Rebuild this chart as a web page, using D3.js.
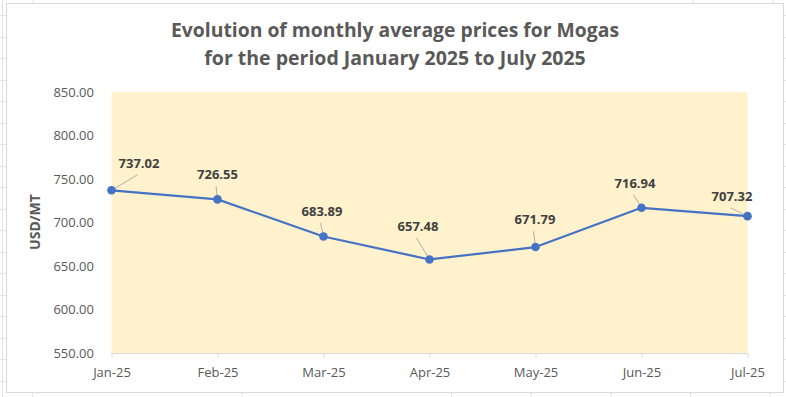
<!DOCTYPE html>
<html><head><meta charset="utf-8">
<script src="https://cdn.jsdelivr.net/npm/d3@7"></script>
<style>
html,body{margin:0;padding:0;background:#fff;}
svg{display:block;}
text{font-family:"Open Sans",sans-serif;}
</style></head>
<body>
<svg id="c" width="786" height="397"></svg>
<script>
const months = ["Jan-25","Feb-25","Mar-25","Apr-25","May-25","Jun-25","Jul-25"];
const prices = [737.02,726.55,683.89,657.48,671.79,716.94,707.32];
const yTicks = [550,600,650,700,750,800,850];
const titleLines = ["Evolution of monthly average prices for Mogas","for the period January 2025 to July 2025"];
const yTitle = "USD/MT";
// label offsets (label centre x, baseline y) relative to point (layout only)
const labelOffsets = [[27.5,-22.6],[0,-20.5],[-1.5,-20.7],[-11.5,-28.6],[-0.5,-22.7],[-6.5,-20],[-15.5,-15.3]];

const svg=d3.select("#c");

// outer spreadsheet grid (faint)
const g0=svg.append("g").attr("stroke","#e3e3e3").attr("stroke-width",1);
[15,37,58,80,101,123,144,166,187,209,230,252,273,295,316,338,359,381].forEach(y=>{
  g0.append("line").attr("x1",0).attr("x2",6).attr("y1",y+0.5).attr("y2",y+0.5);
  g0.append("line").attr("x1",784).attr("x2",786).attr("y1",y+0.5).attr("y2",y+0.5);
});
[32.5,242,451.5,531,611,690.5,770].forEach(x=>{
  g0.append("line").attr("x1",x).attr("x2",x).attr("y1",393).attr("y2",397);
});
[33,693,773].forEach(x=>{
  g0.append("line").attr("x1",x).attr("x2",x).attr("y1",0).attr("y2",3);
});
g0.append("line").attr("x1",2.5).attr("x2",2.5).attr("y1",0).attr("y2",397);

// chart frame
svg.append("rect").attr("x",6.5).attr("y",3.5).attr("width",777).attr("height",389)
  .attr("fill","#fff").attr("stroke","#d9d9d9");

const x=d3.scalePoint().domain(months).range([111.5,747.5]);
const y=d3.scaleLinear().domain([550,850]).range([353,92]);

// plot background
svg.append("rect").attr("x",x.range()[0]).attr("y",y(850))
  .attr("width",x.range()[1]-x.range()[0]).attr("height",y(550)-y(850))
  .attr("fill","#FFF2CC");

// title
const t=svg.append("text").attr("text-anchor","middle").attr("fill","#595959")
  .attr("font-weight","bold").attr("font-size","19.5px");
titleLines.forEach((s,i)=>{
  t.append("tspan").attr("x",395).attr("y",37+i*28).text(s);
});
const targetW=[448,390];
t.selectAll("tspan").each(function(d,i){
  const w=this.getComputedTextLength();
  if(w>targetW[i]) d3.select(this).attr("textLength",targetW[i]).attr("lengthAdjust","spacingAndGlyphs");
});

// y axis labels
const yAxis=d3.axisLeft(y).tickValues(yTicks).tickFormat(d3.format(".2f")).tickSize(0).tickPadding(0);
const ya=svg.append("g").attr("transform","translate(94,0)").call(yAxis);
ya.select(".domain").remove();
ya.selectAll("text").attr("fill","#595959").attr("font-size","13px")
  .attr("font-family","'Open Sans',sans-serif");

// x axis
const xAxis=d3.axisBottom(x).tickSize(5).tickPadding(10);
const xa=svg.append("g").attr("transform","translate(0,353)").call(xAxis);
xa.select(".domain").attr("stroke","#d9d9d9").attr("d",`M${x.range()[0]},0.5H${x.range()[1]}`);
xa.selectAll(".tick line").attr("stroke","#d9d9d9");
xa.selectAll("text").attr("fill","#595959").attr("font-size","13px")
  .attr("font-family","'Open Sans',sans-serif");

// y title
svg.append("text").attr("transform","translate(40,222) rotate(-90)")
  .attr("text-anchor","middle").attr("fill","#595959").attr("font-weight","bold")
  .attr("font-size","14px").text(yTitle);

// line
const data=months.map((m,i)=>({m,v:prices[i],o:labelOffsets[i]}));
svg.append("path").datum(data)
  .attr("fill","none").attr("stroke","#4472C4").attr("stroke-width",2.25)
  .attr("stroke-linejoin","round")
  .attr("d",d3.line().x(d=>x(d.m)).y(d=>y(d.v)));

// leader lines: from point toward label bottom
svg.selectAll(".lead").data(data).enter().append("line")
  .each(function(d){
    const px=x(d.m), py=y(d.v);
    const ex=px+d.o[0]-1.5, ey=py+d.o[1]+7;
    const dx=ex-px, dy=ey-py, L=Math.hypot(dx,dy);
    d3.select(this).attr("x1",px+dx/L*2.5).attr("y1",py+dy/L*2.5).attr("x2",ex).attr("y2",ey);
  })
  .attr("stroke","#a6a6a6").attr("stroke-width",0.9);

svg.selectAll(".pt").data(data).enter().append("circle")
  .attr("cx",d=>x(d.m)).attr("cy",d=>y(d.v)).attr("r",4.3).attr("fill","#4472C4");

svg.selectAll(".lbl").data(data).enter().append("text")
  .attr("x",d=>x(d.m)+d.o[0]).attr("y",d=>y(d.v)+d.o[1])
  .attr("text-anchor","middle").attr("font-weight","bold").attr("font-size","13px")
  .attr("fill","#404040").text(d=>d3.format(".2f")(d.v));
</script>
</body></html>
